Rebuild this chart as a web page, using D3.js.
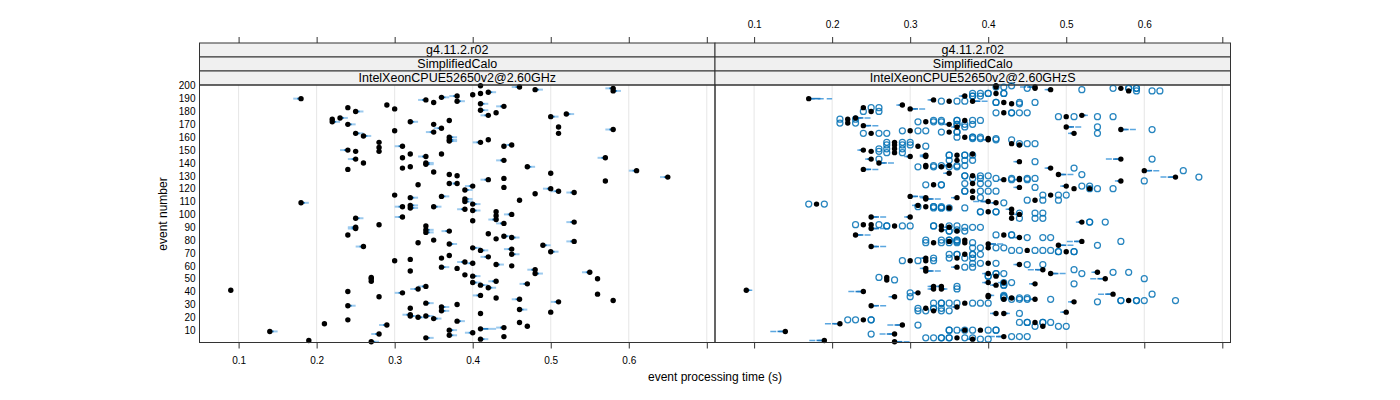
<!DOCTYPE html>
<html><head><meta charset="utf-8">
<script src="https://cdn.jsdelivr.net/npm/d3@7"></script>
<style>body{margin:0;background:#fff}svg{display:block}text{font-family:"Liberation Sans",Arial,sans-serif}</style>
</head><body><svg id="c" width="1400" height="400"></svg>
<script>
// ---- data ----
const stripLevels = [
  ["g4.11.2.r02","SimplifiedCalo","IntelXeonCPUE52650v2@2.60GHz"],
  ["g4.11.2.r02","SimplifiedCalo","IntelXeonCPUE52650v2@2.60GHzS"]
];
const xTicks = [0.1,0.2,0.3,0.4,0.5,0.6,0.7];
const xTickLabels = ["0.1","0.2","0.3","0.4","0.5","0.6",""];
const yTicks = [10,20,30,40,50,60,70,80,90,100,110,120,130,140,150,160,170,180,190,200];
// left panel: [event, time, error-bar end]
const leftPoints = [
[190,0.18,0.17],[183,0.24],[180,0.25,0.26],[185,0.29],[182,0.30],[174,0.22],[172,0.22,0.23],[175,0.23,0.24],[170,0.24,0.25],
[172,0.32,0.33],[163,0.25,0.26],[161,0.26,0.27],[165,0.30],[156,0.28],[152,0.28],[149,0.28],[153,0.31,0.30],[150,0.24,0.23],
[149,0.25],[143,0.25,0.24],[140,0.26],[135,0.24],[136,0.31],[137,0.32],[147,0.32],[144,0.31],[145,0.34,0.33],[140,0.34,0.35],
[139,0.34,0.35],[133,0.35],[123,0.33],[115,0.30],[113,0.32,0.33],[107,0.32,0.33],[105,0.32,0.33],[106,0.31,0.30],[106,0.35,0.36],
[109,0.18,0.19],[97,0.25,0.26],[98,0.31,0.30],[189,0.34,0.33],[187,0.35],[170,0.35],[164,0.35,0.34],
[200,0.41],[199,0.46,0.45],[197,0.48,0.49],[198,0.58,0.57],[196,0.58,0.59],[193,0.40],[194,0.41],[195,0.42,0.43],[192,0.38,0.37],
[191,0.36,0.37],[188,0.38,0.39],[186,0.41,0.42],[184,0.44,0.43],[181,0.41,0.42],[179,0.43],[177,0.42,0.41],[176,0.50,0.51],
[178,0.52,0.53],[173,0.37],[167,0.36,0.35],[168,0.51],[163,0.51],[166,0.58,0.57],[160,0.37,0.38],[158,0.37,0.38],[157,0.37,0.38],
[156,0.41,0.40],[158,0.42],[153,0.44],[154,0.45,0.44],[147,0.36],[142,0.44,0.43],[144,0.57,0.56],[137,0.47,0.48],[134,0.61,0.60],
[129,0.65,0.64],[131,0.37],[130,0.38],[124,0.38,0.37],[124,0.37],[127,0.42,0.41],[128,0.44],[121,0.44],[132,0.50],[126,0.57],
[122,0.40,0.39],[119,0.39,0.40],[120,0.50,0.49],[118,0.51,0.50],[117,0.53,0.52],[116,0.48],[111,0.46],[112,0.39,0.40],[110,0.39,0.40],
[108,0.40,0.41],[114,0.36,0.37],[104,0.39,0.38],[103,0.40,0.41],[102,0.43],[99,0.43],[100,0.45,0.44],
[95,0.40],[96,0.43,0.42],[93,0.44,0.43],[94,0.53,0.52],[87,0.37,0.36],[85,0.42],[81,0.43],[83,0.44,0.45],[82,0.45,0.46],[79,0.53,0.52],
[77,0.37,0.38],[76,0.49,0.50],[74,0.40,0.41],[72,0.41,0.42],[71,0.50,0.51],[73,0.45,0.44],[69,0.45,0.46],[66,0.36],[68,0.37],
[67,0.42,0.41],[63,0.39,0.38],[62,0.40,0.39],[61,0.43,0.44],[60,0.45],[59,0.36,0.37],[58,0.38],[57,0.48,0.47],[54,0.48,0.49],
[55,0.55,0.54],[50,0.56],[53,0.39],[52,0.40,0.41],[47,0.40,0.41],[45,0.41,0.42],[48,0.43,0.42],[46,0.47,0.46],[43,0.42,0.43],
[37,0.41,0.40],[35,0.43],[34,0.46,0.45],[38,0.56],[33,0.58],[32,0.51,0.50],[30,0.38],[28,0.36,0.37],[25,0.36,0.37],[26,0.46,0.47],
[24,0.50],[23,0.41],[19,0.35,0.36],[17,0.38,0.39],[16,0.46],[13,0.47],[11,0.41,0.43],[12,0.44,0.43],[10,0.37,0.38],[6,0.37,0.38],
[8,0.40,0.39],[3,0.41,0.42],[5,0.44],
[92,0.28],[90,0.25,0.24],[89,0.25,0.24],[84,0.24],[75,0.26,0.25],[91,0.34],[88,0.34,0.35],[86,0.34,0.35],[80,0.35],[78,0.33],
[64,0.30],[65,0.32],[56,0.32],[51,0.27],[50,0.27],[48,0.27],[41,0.09],[40,0.24],[39,0.31,0.30],[42,0.33,0.32],[44,0.34,0.33],
[36,0.28],[31,0.34,0.35],[29,0.24,0.25],[27,0.32],[22,0.32,0.31],[21,0.32,0.33],[20,0.33,0.34],[21,0.34,0.35],[18,0.24],
[15,0.21],[14,0.29,0.28],[9,0.14,0.15],[7,0.28,0.27],[4,0.34,0.35],[2,0.19],[1,0.27,0.28]
];
// right panel: [event, mean time, error-bar end, ...individual runs]
const rightPoints = [
[200,0.41,null,0.43],[199,0.41,null,0.41,0.42],[199,0.46,0.44],[197,0.48,0.47,0.52],[198,0.57,null,0.56,0.58,0.58,0.59,0.59],
[196,0.58,null,0.59,0.61,0.62],[198,0.46,null,0.45],[194,0.41,null,0.38,0.39,0.40,0.40,0.42,0.42],[192,0.37,0.36,0.38,0.38,0.39],
[190,0.17,0.20],[189,0.33,0.32],[188,0.35,null,0.34,0.36,0.37],[188,0.38,0.40],[187,0.42,null,0.41,0.41,0.44,0.46],[186,0.43,null,0.44],
[185,0.29,0.28],[183,0.24,null,0.25,0.26],[182,0.30,0.32],[180,0.25,null,0.24,0.26],[179,0.42,null,0.41,0.43,0.43,0.44,0.45],
[176,0.50,null,0.49,0.51,0.54,0.56],[177,0.52,0.53],[175,0.23,0.25],[174,0.22,null,0.21,0.23],
[173,0.37,null,0.33,0.34,0.36,0.36,0.38,0.39],[172,0.32,null,0.31,0.33,0.34],[171,0.22,null,0.21,0.23],
[170,0.35,0.34,0.36,0.36,0.37,0.38],[169,0.24,0.26],[168,0.50,0.52,0.54],[168,0.36,0.35,0.37],[166,0.57,0.59,0.61],
[165,0.30,null,0.29,0.31,0.32],[164,0.35,null,0.34,0.36,0.36],[163,0.25,null,0.24,0.26,0.27],[163,0.51,0.50,0.54],
[160,0.37,null,0.36,0.38,0.38,0.39],[159,0.40,null,0.38,0.39,0.41],[158,0.40,0.39,0.41,0.43],[156,0.28,null,0.27,0.29,0.30],
[155,0.43,null,0.44,0.45,0.46],[154,0.44,null],[154,0.28,null,0.27,0.29,0.30],[153,0.31,null,0.32],[151,0.28,null,0.26,0.27,0.29],
[150,0.24,0.23],[149,0.25,null,0.26],[148,0.28,null,0.27,0.29],[147,0.38],[146,0.32,0.31],[146,0.36,null,0.35,0.35,0.37,0.37,0.38],
[145,0.30,0.29],[145,0.32,0.31],[143,0.25,0.24,0.26],[143,0.57,0.55,0.61],[142,0.36,null,0.35,0.37,0.38],[141,0.44,0.43,0.46],
[140,0.26,0.28],[138,0.32,null,0.33,0.34],[138,0.35,0.34,0.36,0.37],[137,0.32,null,0.31,0.33],[137,0.34,null,0.35,0.36],
[136,0.48,0.47,0.51],[135,0.24,0.26],[134,0.60,0.62,0.65],[132,0.35,0.34],[131,0.49,0.51,0.52],[130,0.38,null,0.37,0.37,0.39,0.40],
[129,0.64,0.62,0.67],[128,0.44,null,0.38,0.39,0.41,0.43,0.45,0.46],[127,0.42,0.41],[127,0.44,0.43,0.43,0.45],[126,0.57,0.56,0.60],
[124,0.38,null,0.37,0.39,0.40],[123,0.33,null,0.32,0.34,0.34],[122,0.50,0.49,0.52,0.53],[121,0.44,0.43,0.46],
[120,0.51,null,0.53,0.54,0.56],[120,0.53],[118,0.38,null,0.37,0.37,0.39,0.40,0.41],[115,0.48,null,0.47,0.49,0.50],
[114,0.30,0.32],[113,0.32,0.31],[113,0.36,0.35],[113,0.38,null,0.39],[112,0.32,0.34],[111,0.46,null,0.45,0.47,0.49],
[110,0.40,0.38],[109,0.41,0.40,0.42],[108,0.18,null,0.17,0.19],[107,0.31,0.30],[106,0.32,null,0.31,0.33,0.33,0.34],
[105,0.35,null,0.33,0.34,0.34,0.35,0.37],[104,0.43,0.42],[102,0.40,null,0.39,0.39,0.41,0.41],[101,0.43,null,0.44,0.46,0.47],
[100,0.44,0.43],[98,0.30,0.29],[98,0.25,0.27],[97,0.43,null,0.44,0.46,0.47],[94,0.52,0.51,0.53,0.53,0.55],
[92,0.24,null,0.23],[92,0.25,null,0.26],[91,0.28,null,0.27,0.27,0.29,0.30],[91,0.34,null,0.33,0.33,0.35,0.36],
[90,0.35,0.34,0.37,0.38,0.39],[89,0.25,0.27],[88,0.34,0.35,0.36],[87,0.36,null,0.35,0.35,0.37],[84,0.23,0.25],
[84,0.42,null,0.41,0.43,0.43],[82,0.44,0.43,0.45,0.47,0.48],[80,0.37,null,0.32,0.34,0.35,0.35,0.36,0.36],[79,0.52,0.50,0.57],
[79,0.35,null,0.36],[78,0.33,null,0.32,0.34,0.35,0.36],[78,0.37,null,0.38],[77,0.40,0.42],[76,0.49,0.51,0.54],[75,0.25,0.27],
[74,0.40,null,0.38,0.39,0.41,0.42],[72,0.45,null,0.43,0.44,0.46,0.47,0.48],[71,0.50,null,0.49,0.49,0.51,0.51],
[69,0.37,null,0.35,0.36,0.36,0.38,0.38,0.39],[66,0.36,null,0.35,0.37,0.38],[66,0.32,0.31,0.33],[64,0.30,null,0.29,0.31],
[64,0.32,null,0.33],[62,0.40,null,0.38,0.39,0.41],[61,0.44,0.43,0.45,0.47],[59,0.36,0.35,0.37,0.38],[58,0.32,0.31],
[57,0.47,0.45,0.51],[56,0.32,0.34],[55,0.54,0.53,0.56,0.58],[54,0.48,0.50,0.52],[54,0.40,0.39,0.41,0.41,0.42],
[52,0.41,null,0.40,0.40],[51,0.27,null,0.26],[49,0.27,null,0.28],[50,0.55,0.53,0.60],[47,0.40,0.39,0.42,0.43],[47,0.42,0.41],
[46,0.46,0.45,0.51],[45,0.41,0.40,0.42,0.42],[44,0.34,0.33,0.36],[44,0.33,0.32],[42,0.33,0.32,0.36],[42,0.34,0.35],
[41,0.09,0.10],[40,0.24,0.22],[39,0.31,0.30,0.30],[38,0.56,0.54,0.61],[37,0.40,0.41,0.42],[36,0.28,0.27,0.30],
[36,0.40,null,0.42,0.42],[35,0.43,null,0.42,0.44,0.45],[34,0.46,0.45,0.48],[34,0.42,null,0.43,0.44,0.45],
[33,0.58,null,0.57,0.57,0.59,0.59,0.60,0.64],[32,0.51,0.50,0.54],[31,0.37,null,0.33,0.34,0.34,0.35,0.36,0.38,0.39,0.40],
[29,0.25,0.27],[27,0.32,null,0.31,0.33,0.33,0.34],[28,0.36,0.35],[25,0.33,null,0.31,0.32,0.34,0.35],[24,0.50,0.49],
[23,0.41,0.40,0.44],[23,0.42,0.43],[18,0.24,null,0.22,0.23,0.25,0.25],[16,0.46,null,0.44,0.45,0.45,0.47,0.47,0.48],
[15,0.21,0.19],[14,0.29,0.27,0.31],[13,0.47,null,0.46,0.49,0.50],[10,0.39,null,0.35,0.35,0.36,0.37,0.38,0.40,0.41,0.41],
[10,0.37,0.36],[9,0.14,0.12],[7,0.28,0.26,0.25],[5,0.42,0.40,0.43,0.44,0.45],[4,0.36,null,0.32,0.33,0.34,0.34,0.35,0.35,0.37,0.38],
[3,0.38,0.37,0.39,0.40],[2,0.19,0.17],[1,0.28,0.30]
];

// ---- layout ----
const svg = d3.select("#c");
const PT = 85, PB = 342.5;
const panels = [{x0:199.5,x1:715},{x0:715,x1:1230.5}];
const stripH = 14;
const xDomain = [0.0499, 0.7105];
const y = d3.scaleLinear().domain([0.4,200.6]).range([PB,PT]);
panels.forEach(p => p.x = d3.scaleLinear().domain(xDomain).range([p.x0,p.x1]));

panels.forEach((p,i) => {
  const g = svg.append("g");
  g.selectAll("line.grid").data(xTicks).join("line")
    .attr("x1",d=>p.x(d)).attr("x2",d=>p.x(d)).attr("y1",PT).attr("y2",PB)
    .attr("stroke","#e6e6e6").attr("stroke-width",1);
  stripLevels[i].forEach((lab,k) => {
    const top = PT - stripH*(3-k);
    g.append("rect").attr("x",p.x0).attr("y",top).attr("width",p.x1-p.x0).attr("height",stripH)
      .attr("fill","#f0f0f0").attr("stroke","#333").attr("stroke-width",1);
    g.append("text").attr("x",(p.x0+p.x1)/2).attr("y",top+stripH/2+4.3).attr("text-anchor","middle")
      .attr("font-size",12.5).attr("font-family","Liberation Sans Narrow, Arial Narrow, sans-serif")
      .attr("fill","#000").text(lab);
  });
  const ab = d3.axisBottom(p.x).tickValues(xTicks).tickSize(6).tickSizeOuter(0)
    .tickFormat((d,j)=> i===0 ? xTickLabels[j] : "");
  const gb = g.append("g").attr("transform",`translate(0,${PB})`).call(ab);
  const at = d3.axisTop(p.x).tickValues(xTicks).tickSize(6).tickSizeOuter(0)
    .tickFormat((d,j)=> i===1 ? xTickLabels[j] : "");
  const gt = g.append("g").attr("transform",`translate(0,${PT-3*stripH})`).call(at);
  [gb,gt].forEach(a => {
    a.select(".domain").remove();
    a.selectAll(".tick line").attr("stroke","#333");
    a.selectAll(".tick text").attr("font-size",10).attr("fill","#000").attr("font-family","Liberation Sans, Arial, sans-serif");
  });
  gb.selectAll(".tick text").attr("dy","1.2em");
  gt.selectAll(".tick text").attr("dy","-0.6em");
});

const gy = svg.append("g").attr("transform",`translate(${panels[0].x0},0)`)
  .call(d3.axisLeft(y).tickValues(yTicks).tickSize(0).tickPadding(4));
gy.select(".domain").remove();
gy.selectAll(".tick text").attr("font-size",10).attr("fill","#000").attr("font-family","Liberation Sans, Arial, sans-serif");

const L = panels[0], R = panels[1];
const gl = svg.append("g");
const lwith = leftPoints.filter(d => d[2] != null);
gl.selectAll("line.eb1").data(lwith).join("line")
  .attr("x1",d=>L.x(d[1])).attr("x2",d=>L.x(d[2])).attr("y1",d=>y(d[0])).attr("y2",d=>y(d[0]))
  .attr("stroke","#9ccaee").attr("stroke-width",2);
gl.selectAll("line.eb2").data(lwith).join("line")
  .attr("x1",d=>L.x(d[1])).attr("x2",d=>L.x((d[1]+d[2])/2)).attr("y1",d=>y(d[0])).attr("y2",d=>y(d[0]))
  .attr("stroke","#1f7cc4").attr("stroke-width",1.6);
gl.selectAll("circle").data(leftPoints).join("circle")
  .attr("cx",d=>L.x(d[1])).attr("cy",d=>y(d[0])).attr("r",2.7).attr("fill","#000");

const gr = svg.append("g");
const rwith = rightPoints.filter(d => d[2] != null);
gr.selectAll("line.eb1").data(rwith).join("line")
  .attr("x1",d=>R.x(d[1])).attr("x2",d=>R.x(d[2])).attr("y1",d=>y(d[0])).attr("y2",d=>y(d[0]))
  .attr("stroke","#5aa6e0").attr("stroke-width",1.5).attr("stroke-dasharray","6,3");
gr.selectAll("line.eb2").data(rwith).join("line")
  .attr("x1",d=>R.x(d[1])).attr("x2",d=>R.x((d[1]+d[2])/2)).attr("y1",d=>y(d[0])).attr("y2",d=>y(d[0]))
  .attr("stroke","#1f7cc4").attr("stroke-width",1.6);
const opens = [];
rightPoints.forEach(d => d.slice(3).forEach(v => opens.push([d[0], v])));
gr.selectAll("circle.o").data(opens).join("circle")
  .attr("cx",d=>R.x(d[1])).attr("cy",d=>y(d[0])).attr("r",3)
  .attr("fill","none").attr("stroke","#0070b4").attr("stroke-width",1.25).attr("stroke-opacity",0.85);
gr.selectAll("circle.b").data(rightPoints).join("circle")
  .attr("cx",d=>R.x(d[1])).attr("cy",d=>y(d[0])).attr("r",2.7).attr("fill","#000");

panels.forEach(p => svg.append("rect").attr("x",p.x0).attr("y",PT).attr("width",p.x1-p.x0).attr("height",PB-PT)
  .attr("fill","none").attr("stroke","#333").attr("stroke-width",1));

svg.append("text").attr("x",715).attr("y",381).attr("text-anchor","middle").attr("font-size",12).text("event processing time (s)");
svg.append("text").attr("transform","translate(167,214) rotate(-90)").attr("text-anchor","middle").attr("font-size",12).text("event number");
</script></body></html>
